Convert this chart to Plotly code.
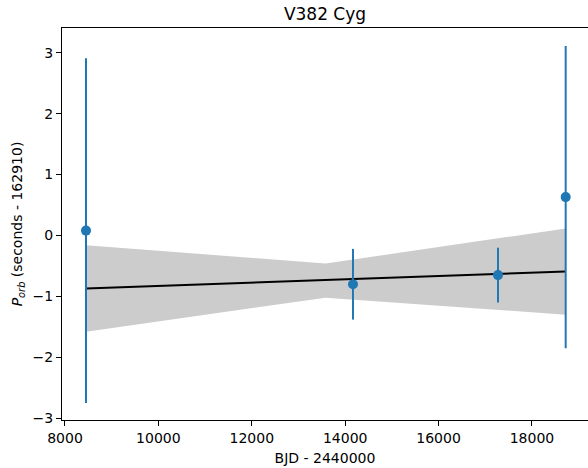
import plotly.graph_objects as go

# Data
bjd = [8450, 14167, 17272, 18722]
porb = [0.08, -0.80, -0.65, 0.63]
porb_err = [2.83, 0.58, 0.45, 2.48]

fit_x = [8450, 18722]
fit_y = [-0.87, -0.59]

band_x = [8450, 13582, 18722]
band_upper = [-0.16, -0.46, 0.115]
band_lower = [-1.58, -1.02, -1.30]

fig = go.Figure()

# Confidence band
fig.add_trace(go.Scatter(
    x=band_x + band_x[::-1], y=band_upper + band_lower[::-1],
    fill="toself", fillcolor="#cccccc", line=dict(width=0),
    mode="lines", hoverinfo="skip", showlegend=False))

# Fit line
fig.add_trace(go.Scatter(x=fit_x, y=fit_y, mode="lines",
                         line=dict(color="black", width=2), showlegend=False))

# Data points with error bars
fig.add_trace(go.Scatter(
    x=bjd, y=porb, mode="markers",
    marker=dict(color="#1f77b4", size=10),
    error_y=dict(type="data", array=porb_err, visible=True,
                 color="#1f77b4", thickness=2, width=0),
    showlegend=False))

font = dict(family="DejaVu Sans", size=14, color="black")

fig.update_layout(
    width=588, height=468,
    margin=dict(l=62, r=0, t=28, b=48),
    paper_bgcolor="white", plot_bgcolor="white",
    font=font,
    title=dict(text="V382 Cyg", x=0.5, xref="paper", xanchor="center",
               y=1 - 14 / 468, yanchor="middle",
               font=dict(family="DejaVu Sans", size=17, color="black")),
    xaxis=dict(range=[7936, 19200], tickvals=[8000, 10000, 12000, 14000, 16000, 18000],
               ticktext=["8000", "10000", "12000", "14000", "16000", "18000"],
               tickfont=font,
               showgrid=False, zeroline=False, showline=True, linecolor="black",
               linewidth=1, mirror=True, ticks="outside", ticklen=5, tickcolor="black",
               title=dict(text="BJD - 2440000", standoff=8, font=font)),
    yaxis=dict(range=[-3.028, 3.405], tickvals=[-3, -2, -1, 0, 1, 2, 3],
               tickfont=font,
               showgrid=False, zeroline=False, showline=True, linecolor="black",
               linewidth=1, mirror=False, ticks="outside", ticklen=5, tickcolor="black",
               title=dict(text="<i>P</i><sub><i>orb</i></sub> (seconds - 162910)",
                          standoff=6, font=font)),
)

fig.write_html("out.html")
